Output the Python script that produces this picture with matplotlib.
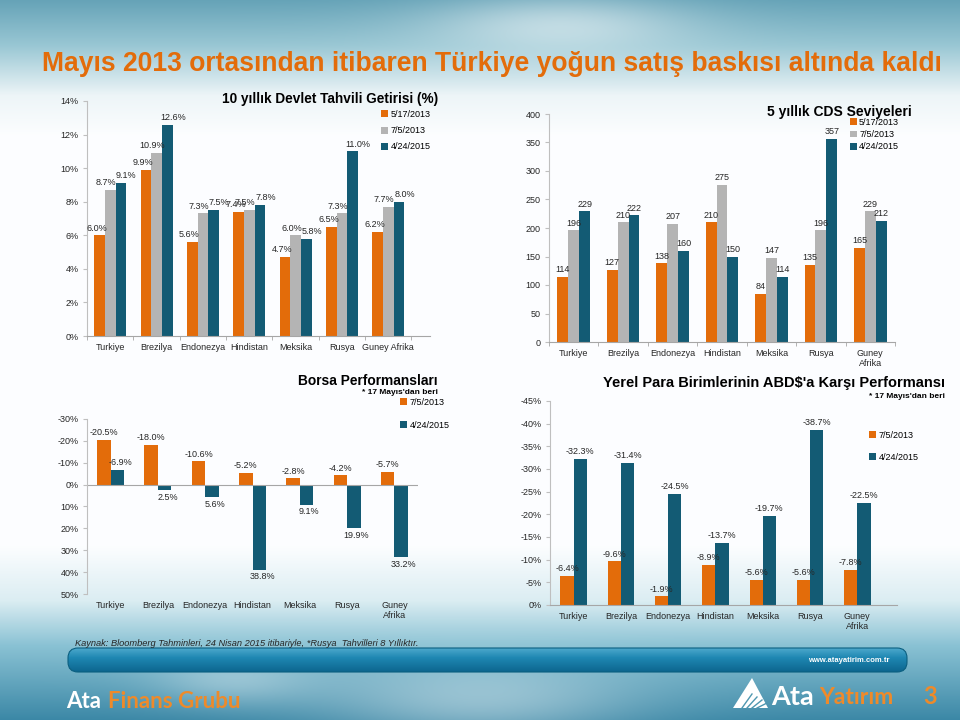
import numpy as np
import matplotlib
matplotlib.use('Agg')
import matplotlib.pyplot as plt
from matplotlib.patches import FancyBboxPatch, Polygon
from matplotlib.ticker import FuncFormatter

plt.rcParams['font.family'] = ['Liberation Sans', 'DejaVu Sans']

# ---- data ----
countries = ['Turkiye', 'Brezilya', 'Endonezya', 'Hindistan', 'Meksika', 'Rusya', 'Guney Afrika']
countries_wrap = ['Turkiye', 'Brezilya', 'Endonezya', 'Hindistan', 'Meksika', 'Rusya', 'Guney\nAfrika']
dates3 = ['5/17/2013', '7/5/2013', '4/24/2015']
dates2 = ['7/5/2013', '4/24/2015']

bond_may13 = [6.0, 9.9, 5.6, 7.4, 4.7, 6.5, 6.2]
bond_jul13 = [8.7, 10.9, 7.3, 7.5, 6.0, 7.3, 7.7]
bond_apr15 = [9.1, 12.6, 7.5, 7.8, 5.8, 11.0, 8.0]

cds_may13 = [114, 127, 138, 210, 84, 135, 165]
cds_jul13 = [196, 210, 207, 275, 147, 196, 229]
cds_apr15 = [229, 222, 160, 150, 114, 357, 212]

stock_jul13 = [-20.5, -18.0, -10.6, -5.2, -2.8, -4.2, -5.7]
stock_apr15 = [-6.9, 2.5, 5.6, 38.8, 9.1, 19.9, 33.2]

fx_jul13 = [-6.4, -9.6, -1.9, -8.9, -5.6, -5.6, -7.8]
fx_apr15 = [-32.3, -31.4, -24.5, -13.7, -19.7, -38.7, -22.5]

ORANGE = '#E36C0A'
GRAY = '#B4B4B4'
TEAL = '#135B74'
TXT = '#262626'

W, H = 960, 720
fig = plt.figure(figsize=(9.6, 7.2), dpi=100)


def px(x, y, w, h):
    # pixel box (top-left origin) -> figure fraction rect
    return [x / W, 1 - (y + h) / H, w / W, h / H]


# ---- slide background ----
bg = fig.add_axes([0, 0, 1, 1], zorder=-10)
bg.set_xlim(0, W)
bg.set_ylim(H, 0)
bg.axis('off')

stop_y = [0, 45, 95, 135, 545, 600, 645, 720]
stop_c = np.array([[0.40, 0.64, 0.72], [0.60, 0.78, 0.83], [0.93, 0.96, 0.97],
                   [0.99, 0.995, 1.0], [0.99, 0.995, 1.0], [0.86, 0.93, 0.95],
                   [0.54, 0.76, 0.83], [0.23, 0.53, 0.65]])
rows = np.arange(H)
col = np.stack([np.interp(rows, stop_y, stop_c[:, k]) for k in range(3)], axis=1)
img = np.repeat(col[:, None, :], W, axis=1)
gx, gy = np.meshgrid(np.arange(W), np.arange(H))
clouds = (np.exp(-((gx - 560) / 130.0) ** 2 - ((gy - 25) / 30.0) ** 2) * 0.5
          + np.exp(-((gx - 480) / 160.0) ** 2 - ((gy - 700) / 40.0) ** 2) * 0.4
          + np.exp(-((gx - 230) / 80.0) ** 2 - ((gy - 680) / 25.0) ** 2) * 0.3)
clouds = np.clip(clouds, 0, 1)[:, :, None]
img = img * (1 - clouds) + clouds
bg.imshow(img, extent=[0, W, H, 0], aspect='auto', interpolation='bilinear')

# footer band
band = FancyBboxPatch((68, 648), 839, 24, boxstyle='round,pad=0,rounding_size=10',
                      facecolor='none', edgecolor='#0B5F80', linewidth=0.8)
bg.add_patch(band)
band_grad = np.linspace(0, 1, 50)[:, None]
band_rgb = np.stack([np.interp(band_grad, [0, 0.4, 1], [0.30, 0.12, 0.05]),
                     np.interp(band_grad, [0, 0.4, 1], [0.66, 0.53, 0.40]),
                     np.interp(band_grad, [0, 0.4, 1], [0.80, 0.70, 0.56])], axis=2)
band_rgb = np.repeat(band_rgb, 10, axis=1)
bim = bg.imshow(band_rgb, extent=[68, 907, 672, 648], aspect='auto', interpolation='bilinear')
bim.set_clip_path(band)
bg.text(890, 661, 'www.atayatirim.com.tr', color='white', fontsize=5.5, fontweight='bold',
        ha='right', va='center')

bg.text(66, 701, 'Ata', color='white', fontsize=16, fontweight='bold', family='Lato',
        ha='left', va='center')
bg.text(108, 701, 'Finans Grubu', color='#EE8A2A', fontsize=16, fontweight='bold', family='Lato',
        ha='left', va='center')

# logo
bg.add_patch(Polygon([[733, 708], [752, 678], [768, 708]], closed=True,
                     facecolor='white', edgecolor='none'))
for k in range(4):
    bg.plot([742 + k * 5, 752 + k * 5], [708, 694 + k * 3], color='#4E97B0', lw=1.0)
bg.text(771, 697, 'Ata', color='white', fontsize=19.5, fontweight='bold', family='Lato',
        ha='left', va='center')
bg.text(819, 697, 'Yatırım', color='#EE8A2A', fontsize=16.5, fontweight='bold', family='Lato',
        ha='left', va='center')
bg.text(930, 697, '3', color='#EE8A2A', fontsize=17, fontweight='bold', family='Lato',
        ha='center', va='center')

# main title and source
fig.text(42 / W, 1 - 64 / H, 'Mayıs 2013 ortasından itibaren Türkiye yoğun satış baskısı altında kaldı',
         color=ORANGE, fontsize=19.1, fontweight='bold', ha='left', va='center')
fig.text(75 / W, 1 - 643 / H,
         'Kaynak: Bloomberg Tahminleri, 24 Nisan 2015 itibariyle, *Rusya  Tahvilleri 8 Yıllıktır.',
         color=TXT, fontsize=6.7, style='italic', ha='left', va='center')


def style_axis(ax, xlabels, nx):
    ax.set_facecolor('none')
    for s in ['top', 'right']:
        ax.spines[s].set_visible(False)
    ax.spines['left'].set_color('#BFBFBF')
    ax.spines['bottom'].set_color('#A6A6A6')
    ax.tick_params(axis='y', length=3, color='#BFBFBF', labelsize=6.5, labelcolor=TXT, pad=3)
    ax.set_xticks(np.arange(nx))
    ax.set_xticklabels(xlabels)
    ax.tick_params(axis='x', which='major', length=0, labelsize=6.5, labelcolor=TXT, pad=5)
    ax.set_xticks(np.arange(nx + 1) - 0.5, minor=True)
    ax.tick_params(axis='x', which='minor', length=3, color='#A6A6A6')


def label_bars(ax, xs, vals, fmt, dx=0):
    # call after the y limits are set, so inverted axes are known
    inv = ax.yaxis_inverted()
    for x, v in zip(xs, vals):
        up = (v >= 0) != inv
        ax.annotate(fmt(v), (x, v), xytext=(dx, 2 if up else -2), textcoords='offset points',
                    ha='center', va='bottom' if up else 'top', fontsize=6.5, color=TXT)


def pct1(v):
    return f'{v:.1f}%'


pct_axis = FuncFormatter(lambda v, p: f'{int(round(v))}%')
x = np.arange(len(countries))

# ---- 10y bond yields ----
ax1 = fig.add_axes(px(87, 101, 343, 235))
ax1.set_ylim(0, 14)
ax1.set_xlim(-0.5, 6.9)
bw = 0.23
shifts = [-2, -3, 4]
for i, (vals, c) in enumerate(zip([bond_may13, bond_jul13, bond_apr15], [ORANGE, GRAY, TEAL])):
    xs = x + (i - 1) * bw
    ax1.bar(xs, vals, bw, color=c, label=dates3[i])
    label_bars(ax1, xs, vals, pct1, dx=shifts[i])
ax1.set_yticks(np.arange(0, 15, 2))
ax1.yaxis.set_major_formatter(pct_axis)
style_axis(ax1, countries, 7)
ax1.legend(loc='upper left', bbox_to_anchor=(381 / W, 1 - 110 / H), bbox_transform=fig.transFigure,
           frameon=False, fontsize=6.5, handlelength=0.8, handleheight=0.8, handletextpad=0.3,
           labelspacing=0.8, borderpad=0, borderaxespad=0)
fig.text(330 / W, 1 - 99 / H, '10 yıllık Devlet Tahvili Getirisi (%)', fontsize=9.8,
         fontweight='bold', ha='center', va='center', color='black')

# ---- 5y CDS ----
ax2 = fig.add_axes(px(549, 114, 346, 228))
ax2.set_ylim(0, 400)
ax2.set_xlim(-0.5, 6.5)
bw = 0.22
for i, (vals, c) in enumerate(zip([cds_may13, cds_jul13, cds_apr15], [ORANGE, GRAY, TEAL])):
    xs = x + (i - 1) * bw
    ax2.bar(xs, vals, bw, color=c, label=dates3[i])
    label_bars(ax2, xs, vals, lambda v: f'{v:.0f}')
ax2.set_yticks(np.arange(0, 401, 50))
style_axis(ax2, countries_wrap, 7)
ax2.legend(loc='upper left', bbox_to_anchor=(850 / W, 1 - 118 / H), bbox_transform=fig.transFigure,
           frameon=False, fontsize=6.5, handlelength=0.8, handleheight=0.8, handletextpad=0.2,
           labelspacing=0.35, borderpad=0, borderaxespad=0)
fig.text(912 / W, 1 - 112 / H, '5 yıllık CDS Seviyeleri', fontsize=10, fontweight='bold',
         ha='right', va='center', color='black')

# ---- stock performance ----
ax3 = fig.add_axes(px(87, 419, 331, 175))
ax3.set_ylim(50, -30)
ax3.set_xlim(-0.5, 6.5)
bw = 0.285
for i, (vals, c) in enumerate(zip([stock_jul13, stock_apr15], [ORANGE, TEAL])):
    xs = x + (i - 0.5) * bw
    ax3.bar(xs, vals, bw, color=c, label=dates2[i])
    label_bars(ax3, xs, vals, pct1, dx=2 * i)
ax3.set_yticks(np.arange(-30, 51, 10))
ax3.yaxis.set_major_formatter(pct_axis)
style_axis(ax3, countries_wrap, 7)
ax3.spines['bottom'].set_visible(False)
ax3.tick_params(axis='x', which='minor', length=0)
ax3.tick_params(axis='x', which='major', pad=5)
ax3.axhline(0, color='#A6A6A6', lw=0.8)
ax3.legend(loc='upper left', bbox_to_anchor=(400 / W, 1 - 398 / H), bbox_transform=fig.transFigure,
           frameon=False, fontsize=6.5, handlelength=0.8, handleheight=0.8, handletextpad=0.3,
           labelspacing=1.5, borderpad=0, borderaxespad=0)
fig.text(438 / W, 1 - 381 / H, 'Borsa Performansları', fontsize=9.9, fontweight='bold',
         ha='right', va='center', color='black')
fig.text(438 / W, 1 - 393 / H, "* 17 Mayıs'dan beri", fontsize=6, fontweight='bold',
         ha='right', va='center', color='black')

# ---- FX performance ----
ax4 = fig.add_axes(px(550, 401, 347, 204))
ax4.set_ylim(0, -45)
ax4.set_xlim(-0.5, 6.84)
bw = 0.28
for i, (vals, c) in enumerate(zip([fx_jul13, fx_apr15], [ORANGE, TEAL])):
    xs = x + (i - 0.5) * bw
    ax4.bar(xs, vals, bw, color=c, label=dates2[i])
    label_bars(ax4, xs, vals, pct1)
ax4.set_yticks(np.arange(0, -46, -5))
ax4.yaxis.set_major_formatter(pct_axis)
style_axis(ax4, countries_wrap, 7)
ax4.tick_params(axis='x', which='minor', length=0)
ax4.legend(loc='upper left', bbox_to_anchor=(869 / W, 1 - 431 / H), bbox_transform=fig.transFigure,
           frameon=False, fontsize=6.5, handlelength=0.8, handleheight=0.8, handletextpad=0.3,
           labelspacing=1.4, borderpad=0, borderaxespad=0)
fig.text(945 / W, 1 - 383 / H, "Yerel Para Birimlerinin ABD$'a Karşı Performansı", fontsize=10.5,
         fontweight='bold', ha='right', va='center', color='black')
fig.text(945 / W, 1 - 397 / H, "* 17 Mayıs'dan beri", fontsize=6, fontweight='bold',
         ha='right', va='center', color='black')

fig.savefig('out.png', dpi=100)
